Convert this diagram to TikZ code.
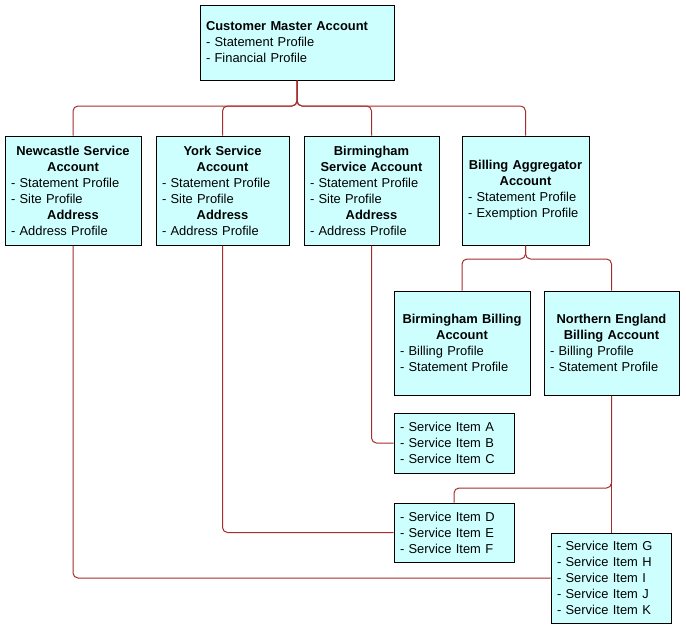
\documentclass[tikz,border=0pt]{standalone}
\usepackage{fontspec}
\setmainfont{Liberation Sans}
\usetikzlibrary{calc}
\definecolor{boxfill}{RGB}{206,255,255}
\definecolor{wirecol}{RGB}{165,45,45}
\newcommand{\ttl}[1]{\makebox[\hsize][c]{\bfseries #1}}
\begin{document}
\begin{tikzpicture}[x=1pt,y=-1pt,
  acct/.style={draw=black, line width=1pt, fill=boxfill, inner xsep=6pt, inner ysep=0pt,
    align=left, font=\fontsize{12.9}{16}\selectfont},
  wire/.style={draw=wirecol, line width=1pt, rounded corners=5pt}]
\useasboundingbox (0,0) rectangle (686,629);

\node[acct, text width=182pt, minimum height=75pt] (cma) at (297,42.5)
  {\textbf{Customer Master Account}\\- Statement Profile\\- Financial Profile};
\node[acct, text width=124pt, minimum height=109pt] (nc) at (73,190.5)
  {\ttl{Newcastle Service}\\\ttl{Account}\\- Statement Profile\\- Site Profile\\\ttl{Address}\\- Address Profile};
\node[acct, text width=121pt, minimum height=109pt] (ys) at (222.5,190.5)
  {\ttl{York Service}\\\ttl{Account}\\- Statement Profile\\- Site Profile\\\ttl{Address}\\- Address Profile};
\node[acct, text width=123pt, minimum height=109pt] (bs) at (371.5,190.5)
  {\ttl{Birmingham}\\\ttl{Service Account}\\- Statement Profile\\- Site Profile\\\ttl{Address}\\- Address Profile};
\node[acct, text width=115pt, minimum height=109pt] (ba) at (525.5,190.5)
  {\ttl{Billing Aggregator}\\\ttl{Account}\\- Statement Profile\\- Exemption Profile};
\node[acct, text width=124pt, minimum height=104pt] (bb) at (462,343)
  {\ttl{Birmingham Billing}\\\ttl{Account}\\- Billing Profile\\- Statement Profile};
\node[acct, text width=123pt, minimum height=104pt] (ne) at (611.5,343)
  {\ttl{Northern England}\\\ttl{Billing Account}\\- Billing Profile\\- Statement Profile};
\node[acct, text width=108pt, minimum height=60pt] (sa) at (454,443)
  {- Service Item A\\- Service Item B\\- Service Item C};
\node[acct, text width=108pt, minimum height=59pt] (sd) at (454,532.5)
  {- Service Item D\\- Service Item E\\- Service Item F};
\node[acct, text width=108pt, minimum height=90pt] (sg) at (611,578)
  {- Service Item G\\- Service Item H\\- Service Item I\\- Service Item J\\- Service Item K};

\coordinate (busA) at (0,106);
\coordinate (busB) at (0,259);
\coordinate (busC) at (0,488);

\draw[wire] (cma.south) -- (cma.south |- busA) -| (nc.north);
\draw[wire] (cma.south) -- (cma.south |- busA) -| (ys.north);
\draw[wire] (cma.south) -- (cma.south |- busA) -| (bs.north);
\draw[wire] (cma.south) -- (cma.south |- busA) -| (ba.north);

\draw[wire] (ba.south) -- (ba.south |- busB) -| (bb.north);
\draw[wire] (ba.south) -- (ba.south |- busB) -| (ne.north);

\draw[wire] (bs.south) |- (sa.west);
\draw[wire] (ys.south) |- (sd.west);
\draw[wire] (nc.south) |- (sg.west);

\draw[wire] (ne.south) -- (ne.south |- busC) -| (sd.north);
\draw[wire] (ne.south) -- (ne.south |- sg.north);
\end{tikzpicture}
\end{document}
